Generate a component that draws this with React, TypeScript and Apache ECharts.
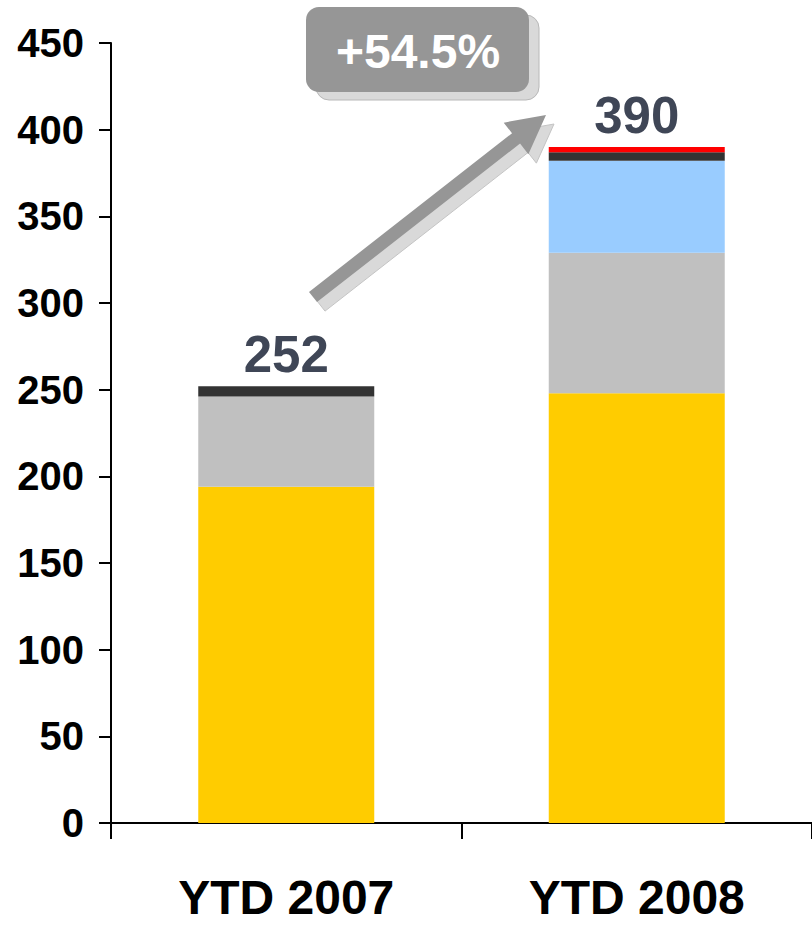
import React, { useEffect, useRef } from "react";
import * as echarts from "echarts";

// Periods on the category axis
const categories = ["YTD 2007", "YTD 2008"];

// Stacked segments, bottom to top
const yellowValues = [194, 248];
const greyValues = [52, 81];
const blueValues = [0, 53];
const darkValues = [6, 5];
const redValues = [0, 3];

const segmentSeries = [
  { name: "a", values: yellowValues, color: "#FFCC00" },
  { name: "b", values: greyValues, color: "#C0C0C0" },
  { name: "c", values: blueValues, color: "#99CCFF" },
  { name: "d", values: darkValues, color: "#333333" },
  { name: "e", values: redValues, color: "#FF0000" },
];

const totals = categories.map((_, i) =>
  segmentSeries.reduce((s, ser) => s + ser.values[i], 0)
);

const growthLabel = "+54.5%";

const FONT = "Arial, 'Liberation Sans', Helvetica, sans-serif";

// Build a thick arrow polygon from a start point to a tip
function arrowPoints(
  sx: number,
  sy: number,
  tx: number,
  ty: number,
  shaftHalf: number,
  headLen: number,
  headHalf: number
): number[][] {
  const dx = tx - sx;
  const dy = ty - sy;
  const len = Math.sqrt(dx * dx + dy * dy);
  const ux = dx / len;
  const uy = dy / len;
  const nx = -uy;
  const ny = ux;
  const bx = tx - ux * headLen;
  const by = ty - uy * headLen;
  return [
    [sx + nx * shaftHalf, sy + ny * shaftHalf],
    [bx + nx * shaftHalf, by + ny * shaftHalf],
    [bx + nx * headHalf, by + ny * headHalf],
    [tx, ty],
    [bx - nx * headHalf, by - ny * headHalf],
    [bx - nx * shaftHalf, by - ny * shaftHalf],
    [sx - nx * shaftHalf, sy - ny * shaftHalf],
  ];
}

export default function App() {
  const ref = useRef<HTMLDivElement>(null);

  useEffect(() => {
    if (!ref.current) return;
    const chart = echarts.init(ref.current, null, { renderer: "svg" });

    const arrow = arrowPoints(313, 297, 546, 115, 6.5, 38, 20);
    const arrowShadow = arrow.map(([x, y]) => [x + 8, y + 9]);

    const series: any[] = segmentSeries.map((s) => ({
      name: s.name,
      type: "bar",
      stack: "total",
      barWidth: 176,
      itemStyle: { color: s.color },
      data: s.values,
    }));

    series.push({
      name: "total",
      type: "bar",
      stack: "total",
      barWidth: 176,
      itemStyle: { color: "transparent" },
      data: categories.map(() => 0),
      label: {
        show: true,
        position: "top",
        distance: 6,
        formatter: (p: any) => String(totals[p.dataIndex]),
        color: "#3F4656",
        fontSize: 51,
        fontWeight: "bold",
        fontFamily: FONT,
      },
    });

    chart.setOption({
      animation: false,
      backgroundColor: "#FFFFFF",
      grid: { left: 111, top: 43, width: 706, height: 780, containLabel: false },
      xAxis: {
        type: "category",
        data: categories,
        axisLine: { show: true, lineStyle: { color: "#000000", width: 2 } },
        axisTick: {
          show: true,
          alignWithLabel: false,
          length: 16,
          lineStyle: { color: "#000000", width: 2 },
        },
        axisLabel: {
          margin: 54,
          color: "#000000",
          fontSize: 48,
          lineHeight: 40,
          fontWeight: "bold",
          fontFamily: FONT,
        },
      },
      yAxis: {
        type: "value",
        min: 0,
        max: 450,
        interval: 50,
        splitLine: { show: false },
        axisLine: { show: true, lineStyle: { color: "#000000", width: 2 } },
        axisTick: {
          show: true,
          length: 12,
          lineStyle: { color: "#000000", width: 2 },
        },
        axisLabel: {
          margin: 27,
          color: "#000000",
          fontSize: 40,
          fontWeight: "bold",
          fontFamily: FONT,
        },
      },
      series,
      graphic: [
        // growth arrow with its drop shadow
        {
          type: "polygon",
          shape: { points: arrowShadow },
          style: { fill: "#D9D9D9", stroke: "#C4C4C4", lineWidth: 1 },
          z: 10,
        },
        {
          type: "polygon",
          shape: { points: arrow },
          style: { fill: "#969696" },
          z: 11,
        },
        // growth badge with its drop shadow
        {
          type: "rect",
          shape: { x: 316, y: 15, width: 223, height: 85, r: 13 },
          style: { fill: "#D9D9D9", stroke: "#B8B8B8", lineWidth: 1 },
          z: 10,
        },
        {
          type: "rect",
          shape: { x: 306, y: 7, width: 223, height: 85, r: 13 },
          style: { fill: "#969696" },
          z: 11,
        },
        {
          type: "text",
          x: 418,
          y: 51,
          style: {
            text: growthLabel,
            fill: "#FFFFFF",
            fontSize: 48,
            fontWeight: "bold",
            fontFamily: FONT,
            align: "center",
            verticalAlign: "middle",
          },
          z: 12,
        },
      ],
    });

    return () => chart.dispose();
  }, []);

  return (
    <div
      ref={ref}
      style={{ position: "fixed", left: 0, top: 0, width: 812, height: 926 }}
    />
  );
}
